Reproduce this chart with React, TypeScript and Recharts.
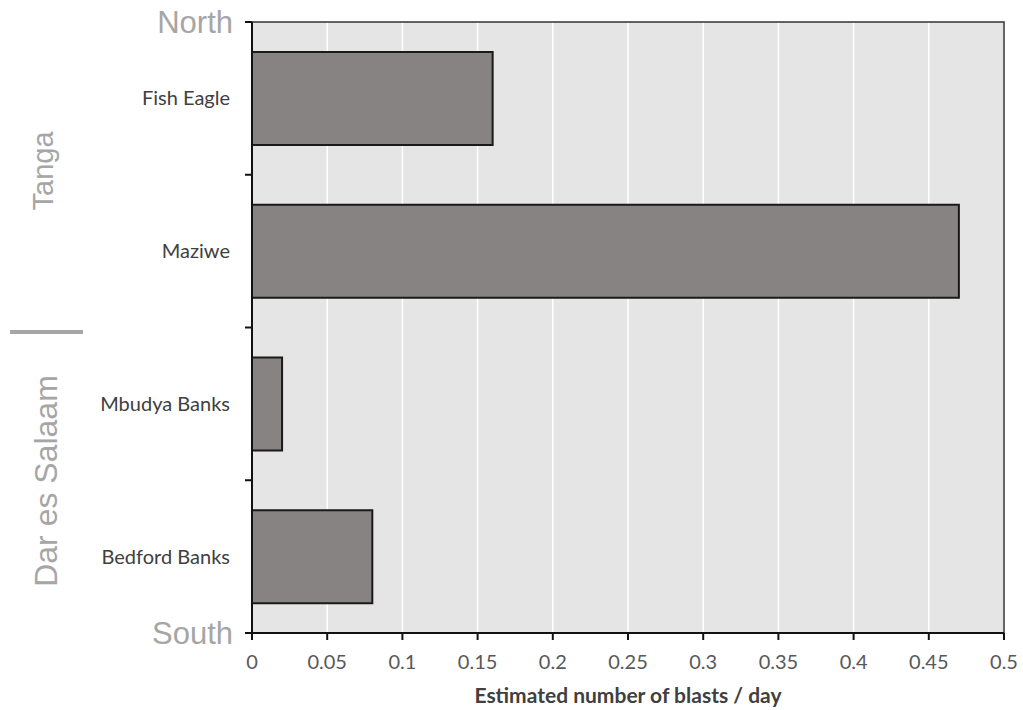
import React from "react";
import {
  BarChart,
  Bar,
  XAxis,
  YAxis,
  CartesianGrid,
  ReferenceArea,
} from "recharts";

/* ── data ─────────────────────────────────────────────────────────────── */

const SITES = ["Fish Eagle", "Maziwe", "Mbudya Banks", "Bedford Banks"];
const BLASTS = [0.16, 0.47, 0.02, 0.08];
const X_TICKS = [0, 0.05, 0.1, 0.15, 0.2, 0.25, 0.3, 0.35, 0.4, 0.45, 0.5];
const ENDS = { top: "North", bottom: "South" };
const REGIONS = ["Tanga", "Dar es Salaam"];

const data = SITES.map((name, i) => ({ name, blasts: BLASTS[i] }));

/* ── helpers ──────────────────────────────────────────────────────────── */

const LABEL_FONT = "Lato, 'Open Sans', sans-serif";
const BIG_FONT = "'Liberation Sans', Arial, sans-serif";
const BIG_GREY = "#a6a6a6";

// category tick: name at band centre, tick marks on the band edges
function SiteTick(props: any) {
  const { x, y, payload, index } = props;
  const half: number = payload.offset ?? 0;
  const last = index === SITES.length - 1;
  const edgeLabel = (yy: number, txt: string) => (
    <text
      x={x - 19}
      y={yy}
      dy="0.34em"
      textAnchor="end"
      fontFamily={BIG_FONT}
      fontSize={31}
      fill={BIG_GREY}
    >
      {txt}
    </text>
  );
  return (
    <g>
      <line x1={x - 7} x2={x} y1={y - half} y2={y - half} stroke="#111" strokeWidth={2} />
      {last && (
        <line x1={x - 7} x2={x} y1={y + half} y2={y + half} stroke="#111" strokeWidth={2} />
      )}
      {index === 0 && edgeLabel(y - half, ENDS.top)}
      {last && edgeLabel(y + half, ENDS.bottom)}
      <text
        x={x - 22}
        y={y}
        dy="0.35em"
        textAnchor="end"
        fontFamily={LABEL_FONT}
        fontSize={20}
        fill="#404040"
      >
        {payload.value}
      </text>
    </g>
  );
}

/* ── chart ────────────────────────────────────────────────────────────── */

export default function App() {
  return (
    <div style={{ position: "absolute", left: 0, top: 0, width: 1023, height: 710 }}>
      <BarChart
        width={1023}
        height={710}
        data={data}
        layout="vertical"
        margin={{ top: 22, right: 19, left: 0, bottom: 0 }}
      >
        <CartesianGrid
          horizontal={false}
          stroke="#ffffff"
          strokeWidth={1.5}
          fill="#e6e5e5"
          fillOpacity={1}
        />
        <XAxis
          type="number"
          domain={[0, 0.5]}
          ticks={X_TICKS}
          interval={0}
          height={77}
          tickSize={7}
          tickMargin={15}
          tickFormatter={(v: number) => String(v)}
          axisLine={{ stroke: "#111", strokeWidth: 2 }}
          tickLine={{ stroke: "#111", strokeWidth: 2 }}
          tick={{ fill: "#595959", fontSize: 20, fontFamily: LABEL_FONT }}
          label={{
            value: "Estimated number of blasts / day",
            position: "insideBottom",
            offset: 7,
            fill: "#404040",
            fontSize: 21,
            fontWeight: 700,
            fontFamily: LABEL_FONT,
          }}
        />
        <YAxis
          type="category"
          dataKey="name"
          width={252}
          interval={0}
          tickSize={0}
          tickMargin={0}
          tickLine={false}
          axisLine={{ stroke: "#111", strokeWidth: 2 }}
          tick={<SiteTick />}
        />
        <ReferenceArea
          x1={0}
          x2={0.5}
          fill="none"
          fillOpacity={0}
          stroke="#333"
          strokeWidth={1.5}
        />
        <Bar
          dataKey="blasts"
          fill="#878383"
          stroke="#1a1a1a"
          strokeWidth={2}
          barSize={93}
          isAnimationActive={false}
        />
      </BarChart>
      <svg
        width={1023}
        height={710}
        style={{ position: "absolute", left: 0, top: 0, pointerEvents: "none" }}
      >
        <text
          transform="translate(43,171) rotate(-90)"
          textAnchor="middle"
          dy="0.36em"
          fontFamily={BIG_FONT}
          fontSize={29}
          fill={BIG_GREY}
        >
          {REGIONS[0]}
        </text>
        <line x1={10} x2={83} y1={332} y2={332} stroke={BIG_GREY} strokeWidth={4} />
        <text
          transform="translate(45,481) rotate(-90)"
          textAnchor="middle"
          dy="0.36em"
          fontFamily={BIG_FONT}
          fontSize={32}
          fill={BIG_GREY}
        >
          {REGIONS[1]}
        </text>
      </svg>
    </div>
  );
}
